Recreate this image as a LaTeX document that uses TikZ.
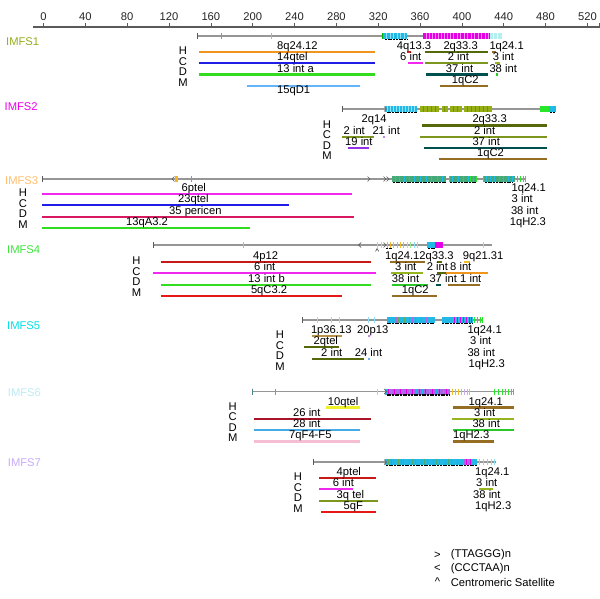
\documentclass[tikz,border=0pt]{standalone}
\usepackage{fontspec}
\setmainfont{Liberation Sans}
\definecolor{axisgray}{RGB}{90,90,90}
\definecolor{seqgray}{RGB}{150,150,150}
\definecolor{cIa}{RGB}{150,172,30}
\definecolor{cIb}{RGB}{235,0,235}
\definecolor{cIc}{RGB}{255,190,110}
\definecolor{cId}{RGB}{60,230,60}
\definecolor{cIe}{RGB}{0,225,230}
\definecolor{cIf}{RGB}{190,235,245}
\definecolor{cIg}{RGB}{200,170,250}
\definecolor{lorange}{RGB}{240,150,30}
\definecolor{lblue}{RGB}{30,30,230}
\definecolor{lgreen}{RGB}{50,220,30}
\definecolor{lsky}{RGB}{100,180,250}
\definecolor{lred}{RGB}{230,25,25}
\definecolor{ldolive}{RGB}{85,105,10}
\definecolor{lbrown}{RGB}{150,110,35}
\definecolor{lmag}{RGB}{240,40,240}
\definecolor{lolive}{RGB}{125,150,30}
\definecolor{lygreen}{RGB}{150,180,30}
\definecolor{lteal}{RGB}{0,80,80}
\definecolor{lgr2}{RGB}{40,200,40}
\definecolor{lpurple}{RGB}{150,50,230}
\definecolor{lcrimson}{RGB}{215,25,95}
\definecolor{ldred}{RGB}{200,25,25}
\definecolor{lgold}{RGB}{240,190,40}
\definecolor{lyellow}{RGB}{240,240,40}
\definecolor{lcrim2}{RGB}{170,20,40}
\definecolor{lsky2}{RGB}{70,170,230}
\definecolor{lpink}{RGB}{245,190,210}
\definecolor{ltan}{RGB}{185,145,70}
\definecolor{bcyan}{RGB}{35,185,230}
\definecolor{bcyanl}{RGB}{140,225,245}
\definecolor{bmag}{RGB}{230,0,230}
\definecolor{bmagl}{RGB}{255,140,255}
\definecolor{bpale}{RGB}{180,240,240}
\definecolor{bolive}{RGB}{150,175,20}
\definecolor{bolived}{RGB}{115,145,10}
\definecolor{bteal}{RGB}{70,170,120}
\definecolor{blime}{RGB}{40,230,40}
\definecolor{bpurp}{RGB}{170,100,230}
\definecolor{borange}{RGB}{245,180,40}
\definecolor{blav}{RGB}{200,170,245}
\definecolor{bgrn}{RGB}{100,170,80}
\newcommand{\fs}{\fontsize{11.2}{13}\selectfont}
\newcounter{labc}
\newcommand{\lab}[3]{\stepcounter{labc}\node[lbl] (lab\arabic{labc}) at (#1,#2-2.5) {#3};}
\newcommand{\fl}[4]{\draw[feat,#1] (#2,#4) -- (#3,#4);}
\newcommand{\setrows}[1]{\pgfmathsetmacro\yH{#1}\pgfmathsetmacro\yC{#1+11.3}\pgfmathsetmacro\yD{#1+22.6}\pgfmathsetmacro\yM{#1+33.9}}
\newcommand{\hcdm}[3]{%
  \node[letr] (#3h) at (#1,#2-1.3) {H};
  \node[letr] (#3c) at (#1,#2+9.3) {C};
  \node[letr] (#3d) at (#1,#2+19.9) {D};
  \node[letr] (#3m) at (#1,#2+30.5) {M};}
\newcommand{\seqln}[3]{\draw[seqgray,line width=1.1pt] (#1,#3) -- (#2,#3);
  \draw[axisgray,line width=0.8pt] (#1,#3-3) -- (#1,#3+3);}
\newcommand{\tk}[3]{\draw[#1,line width=1pt] (#2,#3-3) -- (#2,#3+3);}
\newcommand{\blk}[4]{\fill[#1] (#2,#4-3) rectangle (#3,#4+3);}
\newcommand{\stripes}[3]{\foreach \sx in {#3} {\fill[#1] (\sx,#2-3) rectangle (\sx+1.1,#2+3);}}
\newcommand{\mks}[3]{\draw[black,line width=1.6pt,dash pattern=on 2pt off 0.7pt] (#1,#3+3.6) -- (#2,#3+3.6);}
\newcommand{\rchev}[2]{\draw[axisgray,line width=0.7pt] (#1-1.5,#2-2.5) -- (#1+1,#2) -- (#1-1.5,#2+2.5);}
\newcommand{\lchev}[2]{\draw[axisgray,line width=0.7pt] (#1+1.5,#2-2.5) -- (#1-1,#2) -- (#1+1.5,#2+2.5);}
\begin{document}
\begin{tikzpicture}[x=1pt,y=-1pt,
  feat/.style={line width=2.2pt},
  lbl/.style={anchor=base west,inner sep=0pt,font=\fs},
  letr/.style={anchor=center,inner sep=0pt,font=\fs},
  ttl/.style={anchor=west,inner sep=0pt,font=\fs}]
\useasboundingbox (0,0) rectangle (600,599);
\fill[white] (0,0) rectangle (600,599);
% axis
\draw[axisgray,line width=1.3pt] (33,27) -- (600,27);
\draw[axisgray,line width=0.8pt] (599.5,23) -- (599.5,27);
\foreach \v in {0,40,...,520} {
  \pgfmathsetmacro\ax{43.5+1.046*\v}
  \draw[axisgray,line width=0.6pt] (\ax,23.5) -- (\ax,27);
  \node[letr,text=black!85] (ax\v) at (\ax,16.5) {\v};
}
% ================= IMFS1
\node[ttl,text=cIa] (t1) at (6,42) {IMFS1};
\seqln{197.7}{501.7}{36}
\tk{lgreen}{221}{36}\tk{lpurple!50}{271.7}{36}
\blk{bcyan}{382.3}{406.7}{36}\stripes{bcyanl}{36}{386,390,393,397,400,404}
\tk{green!70!black}{382.6}{36}
\blk{bmag}{423.3}{490}{36}\stripes{bmagl}{36}{426,429,432,435,438,441,444,447,450,453,457,460,464,467,471,474,478,481,485,488}
\blk{bpale}{490}{501.7}{36}\stripes{white}{36}{493,497}
\mks{385}{406.7}{36}
\setrows{52}
\hcdm{183}{\yH}{p1}
\fl{lorange}{199}{375}{\yH}\fl{lred}{407}{410.5}{\yH}\fl{ldolive}{425}{488.3}{\yH}\fl{lbrown}{492.3}{496}{\yH}
\fl{lblue}{199}{375}{\yC}\fl{lmag}{408.3}{422.7}{\yC}\fl{lolive}{425}{488.3}{\yC}\fl{lygreen}{495}{500}{\yC}
\fl{lgreen}{199}{375}{\yD}\fl{lteal}{426}{487.7}{\yD}\fl{lgr2}{495.5}{498}{\yD}
\fl{lsky}{247}{360}{\yM}\fl{lbrown}{440}{487.7}{\yM}
\lab{277}{\yH}{8q24.12}\lab{396.7}{\yH}{4q13.3}\lab{443.3}{\yH}{2q33.3}\lab{489.3}{\yH}{1q24.1}
\lab{277}{\yC}{14qtel}\lab{400}{\yC}{6 int}\lab{447.7}{\yC}{2 int}\lab{492.7}{\yC}{3 int}
\lab{277}{\yD}{13 int a}\lab{445.7}{\yD}{37 int}\lab{489.3}{\yD}{38 int}
\lab{277}{\yM+10}{15qD1}\lab{451.7}{\yM}{1qC2}
% ================= IMFS2
\node[ttl,text=cIb] (t2) at (4.5,107) {IMFS2};
\seqln{342}{555.8}{109}
\blk{bcyan}{384.6}{417.3}{109}\stripes{bcyanl}{109}{387,390,393,396,399,402,405,408,411,414}
\rchev{385.5}{109}
\blk{bolive}{420}{438.5}{109}\blk{bolive}{441.5}{448}{109}\blk{bolive}{450}{461.5}{109}\blk{bolive}{463.5}{491.5}{109}
\stripes{bolived}{109}{423,427,431,435,444,453,457,467,471,475,479,483,487}
\blk{blime}{540.4}{549}{109}\blk{bcyan}{549}{555.8}{109}
\mks{386.5}{417}{109}\mks{550}{555}{109}
\setrows{125.5}
\hcdm{327}{\yH}{p2}
\fl{ldolive}{422}{547}{\yH}
\fl{lolive}{342.3}{373.8}{\yC}\fl{lolive}{420}{547.3}{\yC}\fl{lpurple!60}{383}{385}{\yC}
\fl{lpurple}{348}{369}{\yD}\fl{lteal}{424}{547}{\yD}
\fl{lbrown}{438.5}{547}{\yM}
\lab{361.5}{\yH}{2q14}\lab{472.3}{\yH}{2q33.3}
\lab{343.5}{\yC}{2 int}\lab{372.3}{\yC}{21 int}\lab{473.8}{\yC}{2 int}
\lab{345}{\yD}{19 int}\lab{472.3}{\yD}{37 int}
\lab{477}{\yM}{1qC2}
% ================= IMFS3
\node[ttl,text=cIc] (t3) at (5,181) {IMFS3};
\seqln{42.3}{525}{179}
\lchev{173}{179}\blk{borange}{175}{177.5}{179}
\tk{lgreen}{191.5}{179}
\rchev{369}{179}\rchev{385}{179}\rchev{388}{179}
\blk{bteal}{392}{446}{179}\blk{bteal}{449}{477}{179}\blk{bteal}{483}{515}{179}
\stripes{bcyan}{179}{395,399,404,409,414,420,426,431,437,442,452,458,463,468,473,486,490,494,499,503,508,512}
\stripes{blime}{179}{449,470,476,483}
\tk{blime}{517}{179}\tk{blime}{520}{179}\tk{blime}{523}{179}\tk{blime}{525}{179}
\mks{393}{446}{179}\mks{450}{476}{179}\mks{485}{513}{179}
\setrows{194}
\hcdm{23}{\yH}{p3}
\fl{lmag}{42.3}{352}{\yH}
\fl{lblue}{42.3}{288.5}{\yC}
\fl{lcrimson}{42.3}{353.8}{\yD}
\fl{lgreen}{42.3}{250}{\yM}
\lab{181.5}{\yH}{6ptel}\lab{511.5}{\yH}{1q24.1}
\lab{178}{\yC}{23qtel}\lab{511.5}{\yC}{3 int}
\lab{169}{\yD}{35 pericen}\lab{510.8}{\yD}{38 int}
\lab{126}{\yM}{13qA3.2}\lab{509.6}{\yM}{1qH2.3}
% ================= IMFS4
\node[ttl,text=cId] (t4) at (7,250) {IMFS4};
\seqln{153}{492}{245}
\tk{borange}{243}{245}
\lchev{359.6}{245}
\tk{bcyanl}{377}{245}\tk{bcyanl}{381}{245}
\rchev{385}{245}
\tk{borange}{387.5}{245}\tk{borange}{390.5}{245}\tk{lgold}{393.5}{245}\tk{borange}{397}{245}\tk{lgold}{400.5}{245}\tk{borange}{403.5}{245}
\tk{bcyanl}{407}{245}\tk{lgreen!50}{410.5}{245}\tk{bcyanl}{414}{245}\tk{lgreen!50}{417}{245}
\blk{bcyan}{427}{435}{245}\blk{bmag}{435}{442.7}{245}
\tk{bcyanl}{483.3}{245}
\node[letr,font=\fontsize{8}{9}\selectfont] (car4) at (377.3,251.5) {\^{}};
\mks{386}{392}{245}\mks{428}{435}{245}
\setrows{262}
\hcdm{136.5}{\yH}{p4}
\fl{ldred}{160.8}{371}{\yH}\fl{lbrown}{390}{425}{\yH}\fl{ldolive}{436.7}{441.7}{\yH}\fl{lgold}{464}{470}{\yH}
\fl{lmag}{153}{376}{\yC}\fl{lygreen}{390.7}{423.3}{\yC}\fl{ldolive}{436.7}{446.7}{\yC}\fl{lorange}{446}{488.3}{\yC}
\fl{lgreen}{160.8}{371}{\yD}\fl{lgr2}{391.7}{428.3}{\yD}\fl{lteal}{436}{440.7}{\yD}\fl{lbrown}{448.3}{480}{\yD}
\fl{lred}{160.8}{342}{\yM}\fl{lbrown}{391.7}{436.7}{\yM}
\lab{253}{\yH}{4p12}\lab{385}{\yH}{1q24.1}\lab{419.2}{\yH}{2q33.3}\lab{462.7}{\yH}{9q21.31}
\lab{254}{\yC}{6 int}\lab{395}{\yC}{3 int}\lab{426.7}{\yC}{2 int}\lab{450}{\yC}{8 int}
\lab{248}{\yD}{13 int b}\lab{391.7}{\yD}{38 int}\lab{429.3}{\yD}{37 int}\lab{460}{\yD}{1 int}
\lab{250.8}{\yM}{5qC3.2}\lab{401.7}{\yM}{1qC2}
% ================= IMFS5
\node[ttl,text=cIe] (t5) at (7,326) {IMFS5};
\seqln{302}{482.7}{320}
\tk{bcyanl}{317}{320}\tk{bcyanl}{331.5}{320}\tk{bcyanl}{339}{320}\tk{bcyanl}{368}{320}\tk{bcyanl}{374}{320}
\blk{bcyan}{386.5}{434.6}{320}\stripes{bgrn}{320}{389,393,398,404,409,415,421}\stripes{bpurp}{320}{396,412,426}
\blk{bcyan}{442}{473}{320}\stripes{bmag}{320}{454,457,460,463,466,469,471}
\tk{blime}{474.5}{320}\tk{blime}{477.5}{320}\tk{blime}{480.5}{320}\tk{blime}{482.7}{320}
\mks{386.5}{434.6}{320}\mks{442}{473}{320}
\setrows{336}
\hcdm{280}{\yH}{p5}
\fl{ltan}{312}{342.3}{\yH}\fl{lpurple!60}{368}{369.5}{\yH}
\fl{ldolive}{304}{339}{\yC}
\fl{ldolive}{312}{363.5}{\yD}\fl{lsky}{368}{369.5}{\yD}
\lab{310.8}{\yH}{1p36.13}\lab{357}{\yH}{20p13}\lab{467.3}{\yH}{1q24.1}
\lab{313.5}{\yC}{2qtel}\lab{470}{\yC}{3 int}
\lab{321}{\yD}{2 int}\lab{354.6}{\yD}{24 int}\lab{467.3}{\yD}{38 int}
\lab{468.5}{\yM}{1qH2.3}
% ================= IMFS6
\node[ttl,text=cIf] (t6) at (7.7,393) {IMFS6};
\seqln{252}{513.5}{391.5}
\tk{lteal!70}{252.5}{391.5}\tk{bcyan}{275}{391.5}\tk{bcyanl}{377}{391.5}
\blk{bpurp}{384.6}{450}{391.5}
\stripes{bcyan}{391.5}{386,391,397,403,409,416,422,429,436,443}
\stripes{bmag}{391.5}{388,394,400,406,412,419,425,432,439,446}
\rchev{385.5}{391.5}
\tk{lgold}{452}{391.5}\tk{borange}{455}{391.5}\tk{lgold}{458}{391.5}\tk{borange}{461}{391.5}
\tk{blav}{464}{391.5}\tk{blav}{467}{391.5}\tk{blav}{469}{391.5}
\tk{blime}{494.5}{391.5}\tk{blime}{498}{391.5}\tk{blime}{502}{391.5}\tk{blime}{505}{391.5}\tk{blime}{508}{391.5}\tk{blime}{511}{391.5}\tk{blime}{513.5}{391.5}
\mks{386.5}{450}{391.5}
\setrows{407.5}
\hcdm{232.7}{\yH}{p6}
\fl{lyellow}{326}{359.6}{\yH}\fl{lbrown}{453}{513.5}{\yH}
\fl{lcrim2}{253.8}{371}{\yC}\fl{lygreen}{452}{513.5}{\yC}
\fl{lsky2}{253.8}{359.6}{\yD}\fl{lgr2}{453}{513.5}{\yD}
\fl{lpink}{253.8}{359.6}{\yM}\fl{lbrown}{453}{494}{\yM}
\lab{327.7}{\yH}{10qtel}\lab{468.5}{\yH}{1q24.1}
\lab{293}{\yC}{26 int}\lab{473.8}{\yC}{3 int}
\lab{293}{\yD}{28 int}\lab{472.3}{\yD}{38 int}
\lab{289}{\yM}{7qF4-F5}\lab{453}{\yM}{1qH2.3}
% ================= IMFS7
\node[ttl,text=cIg] (t7) at (7.7,463) {IMFS7};
\seqln{313.5}{496}{462}
\blk{bcyan}{384.6}{477}{462}
\stripes{bgrn}{462}{388,393,398,403,409,415,421,427,433,439,445,451,457}
\stripes{bteal}{462}{391,401,412,424,436,448}
\blk{bpurp}{463.5}{472}{462}\stripes{bmag}{462}{466,470}
\rchev{385.5}{462}
\tk{blime!60}{479}{462}\tk{bcyanl}{483}{462}\tk{blime!60}{487}{462}\tk{bcyanl}{491}{462}\tk{bcyanl}{494}{462}
\mks{385.8}{477}{462}
\setrows{478}
\hcdm{298}{\yH}{p7}
\fl{ldred}{319}{376}{\yH}
\fl{lmag}{319}{353}{\yC}\fl{lygreen}{479}{493}{\yC}
\fl{lolive}{319}{377.7}{\yD}
\fl{lred}{321}{376}{\yM}
\lab{336.5}{\yH}{4ptel}\lab{475}{\yH}{1q24.1}
\lab{332.7}{\yC}{6 int}\lab{476}{\yC}{3 int}
\lab{336.5}{\yD}{3q tel}\lab{473}{\yD}{38 int}
\lab{343.5}{\yM}{5qF}\lab{475}{\yM}{1qH2.3}
% ================= legend
\node[letr] (lg1s) at (437.5,555) {>};
\node[ttl] (lg1) at (450.7,555) {(TTAGGG)n};
\node[letr] (lg2s) at (437.5,568.5) {<};
\node[ttl] (lg2) at (450.7,568.5) {(CCCTAA)n};
\node[letr] (lg3s) at (437.5,582) {\^{}};
\node[ttl] (lg3) at (450.7,582) {Centromeric Satellite};
\end{tikzpicture}
\end{document}
